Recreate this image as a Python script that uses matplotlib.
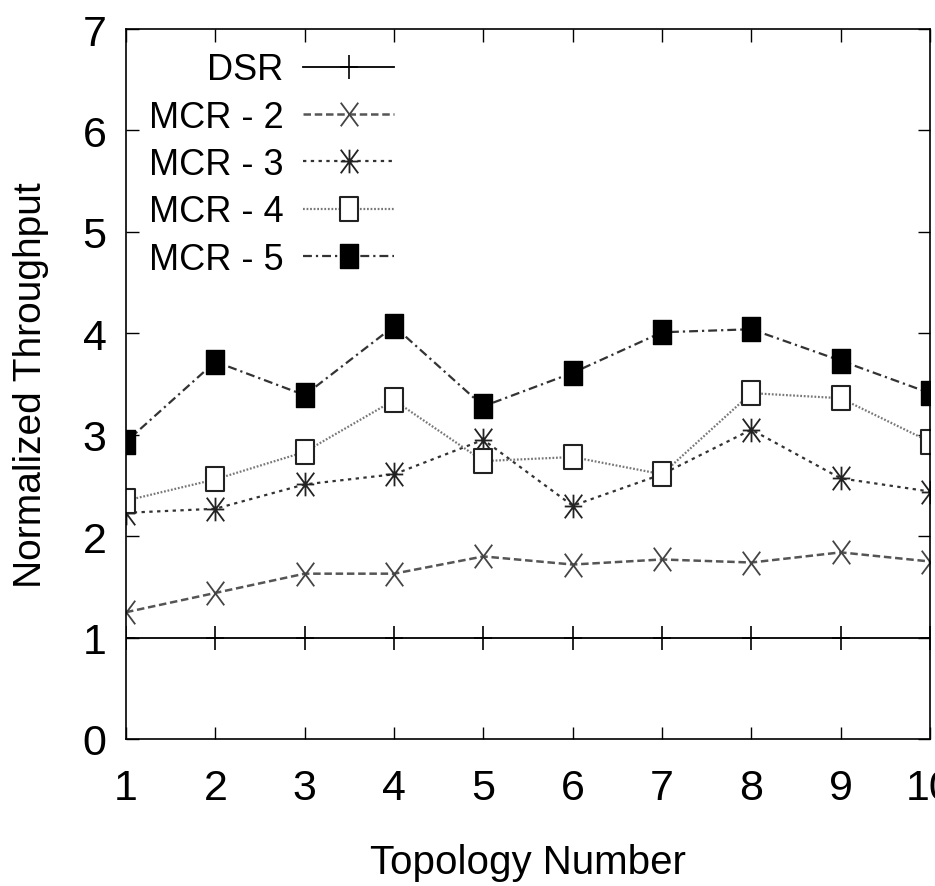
import numpy as np
import matplotlib
matplotlib.use("Agg")
from matplotlib import pyplot as plt
from matplotlib.path import Path

# Dados
topologias = [1, 2, 3, 4, 5, 6, 7, 8, 9, 10]
dsr   = [1.00, 1.00, 1.00, 1.00, 1.00, 1.00, 1.00, 1.00, 1.00, 1.00]
mcr_2 = [1.25, 1.44, 1.63, 1.63, 1.80, 1.72, 1.77, 1.74, 1.84, 1.75]
mcr_3 = [2.23, 2.27, 2.51, 2.61, 2.95, 2.30, 2.61, 3.05, 2.57, 2.44]
mcr_4 = [2.35, 2.56, 2.83, 3.34, 2.74, 2.78, 2.61, 3.41, 3.36, 2.93]
mcr_5 = [2.93, 3.72, 3.39, 4.07, 3.28, 3.61, 4.01, 4.04, 3.73, 3.41]
rotulos = ["DSR", "MCR - 2", "MCR - 3", "MCR - 4", "MCR - 5"]

FonteNarrow = ["Liberation Sans Narrow", "Liberation Sans", "DejaVu Sans"]
FonteNormal = ["Liberation Sans", "DejaVu Sans"]

# marcadores no estilo gnuplot (levemente esticados na vertical)
w = 0.37
M, L = Path.MOVETO, Path.LINETO
mk_plus = Path([(0, -0.5), (0, 0.5), (-w, 0), (w, 0)], [M, L, M, L])
mk_x = Path([(-w, -0.5), (w, 0.5), (-w, 0.5), (w, -0.5)], [M, L, M, L])
mk_star = Path([(-w, -0.5), (w, 0.5), (-w, 0.5), (w, -0.5),
                (0, -0.5), (0, 0.5), (-w, 0), (w, 0)],
               [M, L, M, L, M, L, M, L])
mk_quad = Path([(-w, -0.5), (w, -0.5), (w, 0.5), (-w, 0.5), (-w, -0.5)],
               [M, L, L, L, Path.CLOSEPOLY])

Grafico = plt.figure(figsize=(9.35, 8.87), dpi=100)
ax = Grafico.add_axes([126 / 935, 147 / 887, 804 / 935, 710 / 887])

ax.plot(topologias, dsr, color="black", lw=1.3, marker=mk_plus, ms=17,
        mew=1.2, mfc="none", mec="black", label=rotulos[0])
ax.plot(topologias, mcr_2, color="#555555", lw=1.8, dashes=(3, 1.5),
        marker=mk_x, ms=17, mew=1.3, mfc="none", mec="#444444", label=rotulos[1])
ax.plot(topologias, mcr_3, color="#333333", lw=1.6, dashes=(1.5, 2),
        marker=mk_star, ms=17, mew=1.3, mfc="none", mec="#222222", label=rotulos[2])
ax.plot(topologias, mcr_4, color="#777777", lw=1.6, dashes=(0.8, 0.8),
        marker=mk_quad, ms=17, mew=1.5, mfc="white", mec="#222222", label=rotulos[3])
ax.plot(topologias, mcr_5, color="#333333", lw=1.6, dashes=(4, 1.8, 1, 1.8),
        marker=mk_quad, ms=17, mew=1.0, mfc="black", mec="black", label=rotulos[4])

ax.set_xlim(1, 10)
ax.set_ylim(0, 7)
ax.set_xticks(topologias)
ax.set_yticks(range(0, 8))
ax.tick_params(direction="in", length=9, width=1, top=True, right=True,
               labelsize=31)
ax.tick_params(axis="x", pad=21)
ax.tick_params(axis="y", pad=14)
for t in ax.get_xticklabels() + ax.get_yticklabels():
    t.set_family(FonteNarrow)
for s in ax.spines.values():
    s.set_linewidth(1.2)

ax.set_xlabel("Topology Number", fontsize=29, family=FonteNarrow, labelpad=25)
ax.set_ylabel("Normalized Throughput", fontsize=28, family=FonteNormal,
              labelpad=24)

leg = ax.legend(loc="upper right", bbox_to_anchor=(0.333, 0.967), frameon=False,
                markerfirst=False, handlelength=2.5, handletextpad=0.55,
                labelspacing=0.34, borderpad=0, borderaxespad=0,
                prop={"family": FonteNarrow, "size": 26})

Grafico.savefig("out.png", dpi=100)
